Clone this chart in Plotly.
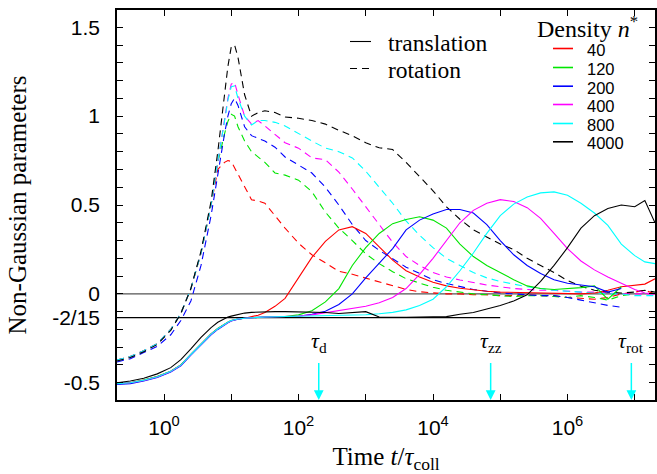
import math
import plotly.graph_objects as go

# ---------------- data ----------------
# time grid t / tau_coll (shared by all curves)
time_grid = [0.2, 0.316, 0.5, 0.794, 1.26, 1.78, 2.51, 3.55, 5.01, 6.31, 7.94, 8.91,
             10.0, 11.2, 12.6, 15.8, 20.0, 25.1, 31.6, 44.7, 63.1, 100, 158, 251, 398,
             631, 1000, 1585, 2512, 3981, 6310, 1.0e4, 1.585e4, 2.512e4, 3.981e4, 6.31e4,
             1.0e5, 1.585e5, 2.512e5, 3.981e5, 6.31e5, 1.0e6, 1.585e6, 2.512e6, 3.981e6,
             6.31e6, 1.0e7, 1.413e7, 2.0e7]

densities = ["40", "120", "200", "400", "800", "4000"]
colors = ["#ff0000", "#00e600", "#0000ff", "#ff00ff", "#00ffff", "#000000"]

# translation (solid)
trans_40 = [-0.505, -0.50, -0.485, -0.465, -0.435, -0.40, -0.34, -0.28, -0.225, -0.195, -0.17, -0.16,
            -0.15, -0.145, -0.141, -0.137, -0.128, -0.12, -0.105, -0.07, -0.025, 0.09, 0.205, 0.295, 0.36,
            0.378, 0.34, 0.265, 0.19, 0.13, 0.095, 0.065, 0.045, 0.032, 0.022, 0.015,
            0.01, 0.008, 0.005, 0.005, 0.003, 0.0, 0.0, 0.005, 0.02,
            0.04, 0.05, 0.055, 0.085]
trans_120 = [-0.505, -0.50, -0.485, -0.465, -0.435, -0.40, -0.34, -0.28, -0.225, -0.195, -0.17, -0.16,
             -0.15, -0.145, -0.141, -0.137, -0.134, -0.132, -0.13, -0.129, -0.127, -0.118, -0.095, -0.045, 0.03,
             0.16, 0.26, 0.34, 0.395, 0.418, 0.434, 0.415, 0.37, 0.28, 0.21, 0.16,
             0.12, 0.08, 0.045, 0.03, 0.025, 0.03, 0.035, 0.045, -0.03,
             0.04, None, None, None]
trans_200 = [-0.51, -0.505, -0.49, -0.47, -0.44, -0.405, -0.345, -0.285, -0.23, -0.2, -0.172, -0.162,
             -0.152, -0.146, -0.142, -0.137, -0.134, -0.132, -0.13, -0.129, -0.128, -0.126, -0.115, -0.098, -0.06,
             0.0, 0.09, 0.175, 0.255, 0.36, 0.415, 0.45, 0.475, 0.475, 0.455, 0.39,
             0.30, 0.22, 0.16, 0.115, 0.08, 0.06, 0.048, 0.04, 0.01,
             0.03, None, None, None]
trans_400 = [-0.505, -0.50, -0.487, -0.467, -0.437, -0.402, -0.342, -0.282, -0.227, -0.197, -0.171, -0.161,
             -0.151, -0.145, -0.141, -0.137, -0.134, -0.132, -0.13, -0.129, -0.128, -0.125, -0.118, -0.105, -0.095,
             -0.082, -0.07, -0.05, -0.02, 0.03, 0.11, 0.20, 0.30, 0.40, 0.47, 0.51,
             0.53, 0.52, 0.485, 0.425, 0.34, 0.255, 0.185, 0.135, 0.095,
             0.06, 0.025, 0.005, 0.0]
trans_800 = [-0.505, -0.50, -0.486, -0.466, -0.436, -0.401, -0.341, -0.281, -0.226, -0.196, -0.17, -0.16,
             -0.15, -0.145, -0.141, -0.137, -0.134, -0.132, -0.13, -0.129, -0.128, -0.127, -0.126, -0.124, -0.122,
             -0.12, -0.117, -0.112, -0.104, -0.09, -0.065, -0.03, 0.04, 0.13, 0.23, 0.34,
             0.44, 0.505, 0.545, 0.568, 0.574, 0.555, 0.51, 0.455, 0.385,
             0.28, 0.215, 0.18, 0.17]
trans_4000 = [-0.50, -0.49, -0.475, -0.45, -0.415, -0.37, -0.31, -0.245, -0.19, -0.16, -0.14, -0.13,
              -0.125, -0.12, -0.115, -0.108, -0.104, -0.102, -0.10, -0.10, -0.10, -0.102, -0.10, -0.105, -0.11,
              -0.105, -0.10, -0.13, -0.132, -0.132, -0.131, -0.13, -0.128, -0.115, -0.105, -0.085,
              -0.065, -0.04, -0.005, 0.07, 0.16, 0.26, 0.37, 0.44, 0.48,
              0.50, 0.49, 0.525, 0.40]

# rotation (dashed)
rot_40 = [-0.373, -0.352, -0.32, -0.28, -0.20, -0.11, 0.03, 0.23, 0.50, 0.70, 0.74, 0.75,
          0.745, 0.71, 0.67, 0.60, 0.53, 0.522, 0.51, 0.44, 0.37, 0.285, 0.22, 0.175, 0.127,
          0.11, 0.088, 0.068, 0.045, 0.025, 0.012, 0.005, 0.0, 0.0, -0.005, -0.005,
          -0.01, -0.01, -0.005, -0.01, -0.01, -0.02, -0.025, -0.03, -0.02,
          0.0, 0.01, 0.02, 0.0]
rot_120 = [-0.373, -0.352, -0.32, -0.28, -0.20, -0.11, 0.03, 0.23, 0.50, 0.74, 0.90, 0.97,
           1.01, 1.0, 0.94, 0.86, 0.80, 0.77, 0.74, 0.68, 0.668, 0.64, 0.575, 0.46, 0.37,
           0.30, 0.225, 0.17, 0.125, 0.085, 0.06, 0.037, 0.02, 0.01, 0.0, -0.005,
           -0.01, -0.015, -0.01, -0.01, -0.015, -0.02, -0.01, -0.02, -0.035,
           -0.01, 0.0, None, None]
rot_200 = [-0.383, -0.365, -0.33, -0.295, -0.23, -0.15, -0.04, 0.16, 0.44, 0.68, 0.90, 1.0,
           1.07, 1.10, 1.06, 0.94, 0.89, 0.875, 0.86, 0.825, 0.77, 0.725, 0.68, 0.60, 0.50,
           0.39, 0.30, 0.245, 0.195, 0.15, 0.115, 0.08, 0.058, 0.04, 0.025, 0.015,
           0.005, 0.0, -0.005, -0.01, -0.01, -0.02, -0.035, -0.05, -0.065,
           -0.075, None, None, None]
rot_400 = [-0.373, -0.352, -0.32, -0.28, -0.20, -0.11, 0.03, 0.23, 0.50, 0.75, 0.98, 1.10,
           1.18, 1.19, 1.12, 1.0, 0.955, 0.975, 0.945, 0.90, 0.85, 0.82, 0.765, 0.755, 0.685,
           0.59, 0.49, 0.39, 0.29, 0.21, 0.16, 0.12, 0.095, 0.078, 0.062, 0.05,
           0.04, 0.03, 0.025, 0.02, 0.02, 0.015, 0.01, 0.01, 0.005,
           0.0, 0.0, 0.0, 0.0]
rot_800 = [-0.373, -0.352, -0.32, -0.28, -0.20, -0.11, 0.03, 0.23, 0.50, 0.75, 0.97, 1.09,
           1.165, 1.17, 1.10, 1.0, 0.95, 0.975, 0.975, 0.965, 0.945, 0.90, 0.86, 0.82, 0.80,
           0.765, 0.69, 0.60, 0.51, 0.41, 0.33, 0.26, 0.20, 0.16, 0.12, 0.09,
           0.07, 0.055, 0.04, 0.03, 0.02, 0.015, 0.01, 0.005, 0.0,
           0.0, -0.01, -0.01, -0.01]
rot_4000 = [-0.378, -0.358, -0.325, -0.285, -0.205, -0.11, 0.03, 0.24, 0.52, 0.80, 1.12, 1.28,
            1.39, 1.40, 1.33, 1.12, 1.0, 1.02, 1.03, 1.02, 0.995, 0.988, 0.975, 0.955, 0.92,
            0.89, 0.85, 0.822, 0.812, 0.74, 0.66, 0.58, 0.49, 0.42, 0.36, 0.32,
            0.28, 0.25, 0.20, 0.16, 0.12, 0.075, 0.043, 0.02, 0.01,
            0.005, 0.01, 0.02, 0.01]

translation = [trans_40, trans_120, trans_200, trans_400, trans_800, trans_4000]
rotation = [rot_40, rot_120, rot_200, rot_400, rot_800, rot_4000]

# reference levels: value, right end, colour
ref_levels = [0.0, -2 / 15]
ref_ends = [2.0e7, 1.0e5]
ref_colors = ["#555555", "#000000"]

# characteristic times (arrows)
tau_values = [200, 7.2e4, 8.9e6]
tau_labels = ["<i>τ</i><sub>d</sub>", "<i>τ</i><sub>zz</sub>", "<i>τ</i><sub>rot</sub>"]
tau_label_y = -0.27
arrow_tail_y = -0.38
arrow_tip_y = -0.597

x_tick_vals = [1, 100, 1e4, 1e6]
x_tick_text = ["10<sup>0</sup>", "10<sup>2</sup>", "10<sup>4</sup>", "10<sup>6</sup>"]
x_minor_vals = [10, 1e3, 1e5, 1e7]
y_tick_vals = [-0.5, -2 / 15, 0.0, 0.5, 1.0, 1.5]
y_tick_text = ["-0.5", "-2/15", "0", "0.5", "1", "1.5"]
y_minor_vals = [-0.4, -0.3, -0.2, -0.1, 0.1, 0.2, 0.3, 0.4, 0.6, 0.7, 0.8, 0.9,
                1.1, 1.2, 1.3, 1.4]

x_range = [0.2, 2.0e7]
y_range = [-0.597, 1.597]

SERIF = "Liberation Serif"
SANS = "Liberation Sans"

# plot-area geometry (pixels) for placing the hand-made legend
W, H = 657, 474
ML, MR, MT, MB = 117, 2, 10, 74
PW, PH = W - ML - MR, H - MT - MB


def px(xp):
    return (xp - ML) / PW


def py(yp):
    return (H - MB - yp) / PH


fig = go.Figure()

# reference lines
for lvl, end, col in zip(ref_levels, ref_ends, ref_colors):
    fig.add_trace(go.Scatter(x=[x_range[0], end], y=[lvl, lvl], mode="lines",
                             line=dict(color=col, width=1.2), showlegend=False, hoverinfo="skip"))

# rotation (dashed)
for name, col, ys in zip(densities, colors, rotation):
    fig.add_trace(go.Scatter(x=time_grid, y=ys, mode="lines", name=name + " rotation",
                             line=dict(color=col, width=1.1, dash="7px,5px"),
                             showlegend=False, connectgaps=False))

# translation (solid)
for name, col, ys in zip(densities, colors, translation):
    fig.add_trace(go.Scatter(x=time_grid, y=ys, mode="lines", name=name,
                             line=dict(color=col, width=1.1),
                             showlegend=False, connectgaps=False))

annotations = []
shapes = []
for tv, lab in zip(tau_values, tau_labels):
    lx = math.log10(tv)
    annotations.append(dict(x=lx, y=arrow_tip_y, ax=lx, ay=arrow_tail_y, xref="x", yref="y",
                            axref="x", ayref="y", showarrow=True, arrowhead=2, arrowsize=1.3,
                            arrowwidth=1.5, arrowcolor="#00ffff", text=""))
    annotations.append(dict(x=lx, y=tau_label_y, xref="x", yref="y", text=lab, showarrow=False,
                            font=dict(family=SERIF, size=22, color="black"),
                            xanchor="center", yanchor="middle"))

# density legend (hand-made so that spacing matches)
annotations.append(dict(x=px(536), y=py(27), xref="paper", yref="paper", xanchor="left",
                        yanchor="middle", showarrow=False, borderpad=0,
                        text="Density <i>n</i><sup>*</sup>",
                        font=dict(family=SERIF, size=24, color="black")))
row_y = [50, 69, 87.7, 106, 125, 143.3]
for name, col, ry in zip(densities, colors, row_y):
    shapes.append(dict(type="line", xref="paper", yref="paper", x0=px(553), x1=px(573),
                       y0=py(ry - 1.5), y1=py(ry - 1.5), line=dict(color=col, width=1.6)))
    annotations.append(dict(x=px(586), y=py(ry), xref="paper", yref="paper", xanchor="left",
                            yanchor="middle", showarrow=False, text=name, borderpad=0,
                            font=dict(family=SANS, size=16.5, color="black")))

# translation / rotation legend
style_names = ["translation", "rotation"]
style_dash = ["solid", "7px,5px"]
style_y = [43, 70]
for name, dsh, ry in zip(style_names, style_dash, style_y):
    shapes.append(dict(type="line", xref="paper", yref="paper", x0=px(350), x1=px(371),
                       y0=py(ry - 1.5), y1=py(ry - 1.5), line=dict(color="black", width=1.1, dash=dsh)))
    annotations.append(dict(x=px(387), y=py(ry), xref="paper", yref="paper", xanchor="left",
                            yanchor="middle", showarrow=False, text=name, borderpad=0,
                            font=dict(family=SERIF, size=23.5, color="black")))

fig.update_layout(
    width=W, height=H,
    margin=dict(l=ML, r=MR, t=MT, b=MB),
    paper_bgcolor="white", plot_bgcolor="white",
    showlegend=False,
    annotations=annotations,
    shapes=shapes,
    xaxis=dict(type="log", range=[math.log10(x_range[0]), math.log10(x_range[1])],
               tickmode="array", tickvals=x_tick_vals, ticktext=x_tick_text,
               ticks="inside", ticklen=6, tickwidth=1, tickcolor="black",
               minor=dict(tickmode="array", tickvals=x_minor_vals, ticks="inside", ticklen=6,
                          tickwidth=1, tickcolor="black"),
               showline=True, linecolor="black", linewidth=1.5, mirror="ticks",
               showgrid=False, zeroline=False, automargin=False, ticklabelstandoff=8,
               tickfont=dict(family=SANS, size=21, color="black"),
               title=dict(text="Time <i>t</i>/<i>τ</i><sub>coll</sub>",
                          font=dict(family=SERIF, size=25, color="black"), standoff=13)),
    yaxis=dict(range=y_range, tickmode="array", tickvals=y_tick_vals, ticktext=y_tick_text,
               ticks="inside", ticklen=6, tickwidth=1, tickcolor="black",
               minor=dict(tickmode="array", tickvals=y_minor_vals, ticks="inside", ticklen=6,
                          tickwidth=1, tickcolor="black"),
               showline=True, linecolor="black", linewidth=1.5, mirror="ticks",
               showgrid=False, zeroline=False, automargin=False, ticklabelstandoff=11,
               tickfont=dict(family=SANS, size=21, color="black"),
               title=dict(text="Non-Gaussian parameters",
                          font=dict(family=SERIF, size=25, color="black"), standoff=18)),
)

fig.write_html("out.html", config={"displayModeBar": False},
               post_script="document.body.style.margin='0';")
